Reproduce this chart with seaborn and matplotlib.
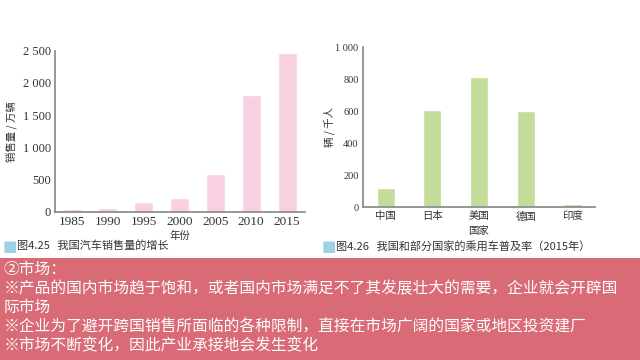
import matplotlib
matplotlib.use('Agg')
import matplotlib.pyplot as plt
from matplotlib.patches import Rectangle
import seaborn as sns
import pandas as pd

# 数据
years = ['1985', '1990', '1995', '2000', '2005', '2010', '2015']
sales = [45, 55, 150, 215, 585, 1810, 2465]
countries = ['中国', '日本', '美国', '德国', '印度']
cars_per_1000 = [118, 608, 816, 604, 21]

cap_left = '图4.25   我国汽车销售量的增长'
cap_right = '图4.26   我国和部分国家的乘用车普及率（2015年）'
notes = [
    '②市场：',
    '※产品的国内市场趋于饱和，或者国内市场满足不了其发展壮大的需要，企业就会开辟国',
    '际市场',
    '※企业为了避开跨国销售所面临的各种限制，直接在市场广阔的国家或地区投资建厂',
    '※市场不断变化，因此产业承接地会发生变化',
]

sns.set_theme(style='white')
plt.rcParams['font.family'] = ['Noto Sans CJK SC', 'DejaVu Sans']

serif = ['Liberation Serif', 'Noto Sans CJK SC']
cjk = ['Noto Sans CJK SC']
grey = '#8a8a8a'
txt = '#333333'


def space_thousands(v):
    return f'{int(v):,}'.replace(',', ' ')


def style_axes(ax, ymax, step, ysize):
    sns.despine(ax=ax)
    ax.spines['left'].set_color(grey)
    ax.spines['bottom'].set_color(grey)
    ax.set_ylim(0, ymax)
    ticks = list(range(0, ymax + 1, step))
    ax.set_yticks(ticks, [space_thousands(t) for t in ticks],
                  fontfamily=serif, fontsize=ysize)
    ax.tick_params(axis='y', direction='in', length=4, width=0.8, color=grey,
                   pad=3, labelcolor=txt)
    ax.tick_params(axis='x', length=0, pad=3, labelcolor=txt)


fig = plt.figure(figsize=(6.4, 3.6), dpi=100)
fig.patch.set_facecolor('white')

# 左图：汽车销售量
df1 = pd.DataFrame({'年份': years, '销售量': sales})
ax1 = fig.add_axes([55 / 640, 1 - 211.7 / 360, 250 / 640, 161 / 360])
sns.barplot(data=df1, x='年份', y='销售量', color='#f9d0e2', saturation=1,
            width=0.53, ax=ax1)
ax1.set_xlim(-0.475, 6.5)
style_axes(ax1, 2500, 500, 9)
ax1.set_xticks(range(len(years)), years, fontfamily=serif, fontsize=9.5)
ax1.set_xlabel('年份', fontsize=7.5, color=txt, labelpad=2, family=cjk)
ax1.set_ylabel('销售量 / 万辆', fontsize=7.5, color=txt, labelpad=4, family=cjk)

# 右图：乘用车普及率
df2 = pd.DataFrame({'国家': countries, '千人拥有量': cars_per_1000})
ax2 = fig.add_axes([362.7 / 640, 1 - 207.3 / 360, 232.3 / 640, 160 / 360])
sns.barplot(data=df2, x='国家', y='千人拥有量', color='#c2dc9a', saturation=1,
            width=0.385, ax=ax2)
ax2.set_xlim(-0.49, 4.48)
style_axes(ax2, 1000, 200, 7.5)
ax2.set_xticks(range(len(countries)), countries, fontfamily=cjk, fontsize=7.5)
ax2.set_xlabel('国家', fontsize=7.5, color=txt, labelpad=3, family=cjk)
ax2.set_ylabel('辆 / 千人', fontsize=7.5, color=txt, labelpad=0, family=cjk)

# 图题
for x0, cap in [(3, cap_left), (322, cap_right)]:
    fig.text(x0 / 640, 1 - 246.5 / 360, '■', color='#9fd0e3', fontsize=11,
             va='center', ha='left', family=['DejaVu Sans'])
    fig.text((x0 + 14) / 640, 1 - 246 / 360, cap, color=txt, fontsize=8,
             va='center', ha='left', family=cjk)

# 底部文字框
fig.patches.append(Rectangle((0, 0), 1, 1 - 257.5 / 360, transform=fig.transFigure,
                             facecolor='#d96b77', edgecolor='none', zorder=0))
line_y = [269, 288.5, 307.5, 327, 346]
for y, line in zip(line_y, notes):
    fig.text(4 / 640, 1 - y / 360, line, color='white', fontsize=11.3,
             va='center', ha='left', family=cjk, weight='medium')

fig.savefig('out.png', dpi=100)
plt.close(fig)
